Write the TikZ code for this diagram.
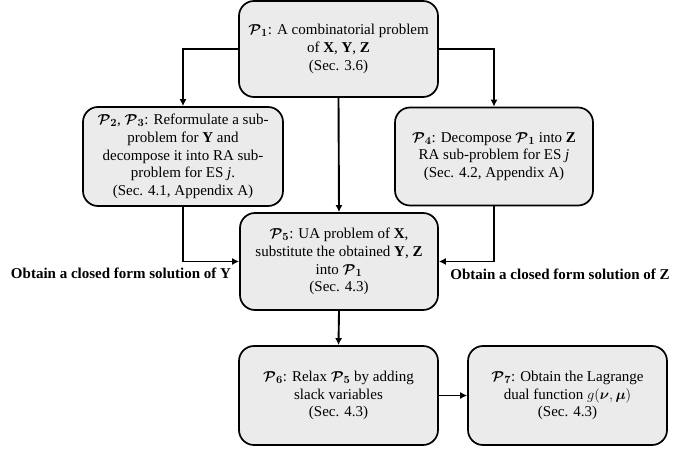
\documentclass[tikz,border=0pt]{standalone}
\usepackage{amsmath,bm}
\usepackage{fontspec}
\setmainfont{Liberation Serif}
\usetikzlibrary{arrows.meta}
\newcommand{\PP}[1]{\ensuremath{\bm{\mathcal{P}}_{\bm{#1}}}}
\begin{document}
\begin{tikzpicture}[x=1pt,y=-1pt,
  box/.style={draw=black,line width=1.7pt,rounded corners=15pt,fill=boxgray,
    align=center,inner sep=2pt,font=\fontsize{15}{17.8}\selectfont},
  conn/.style={line width=1.9pt,-{Latex[length=7pt,width=7pt]}},
  lab/.style={font=\fontsize{15}{17}\selectfont\bfseries}]
\definecolor{boxgray}{HTML}{EBEBEB}
\useasboundingbox (0,0) rectangle (693,449);
\node[box,minimum width=199pt,minimum height=96pt] (p1) at (338.5,49)
  {\PP{1}: A combinatorial problem\\of \textbf{X}, \textbf{Y}, \textbf{Z}\\(Sec. 3.6)};
\node[box,minimum width=200pt,minimum height=99pt] (p2) at (183,156.5)
  {\PP{2}, \PP{3}: Reformulate a sub-\\problem for \textbf{Y} and\\decompose it into RA sub-\\problem for ES \textit{j}.\\(Sec. 4.1, Appendix A)};
\node[box,minimum width=198pt,minimum height=98pt] (p4) at (494,156.5)
  {\PP{4}: Decompose \PP{1} into \textbf{Z}\\RA sub-problem for ES \textit{j}\\(Sec. 4.2, Appendix A)};
\node[box,minimum width=198pt,minimum height=97pt] (p5) at (339,261.5)
  {\PP{5}: UA problem of \textbf{X},\\substitute the obtained \textbf{Y}, \textbf{Z}\\into \PP{1}\\(Sec. 4.3)};
\node[box,minimum width=199pt,minimum height=99pt] (p6) at (338.5,395.5)
  {\PP{6}: Relax \PP{5} by adding\\slack variables\\(Sec. 4.3)};
\node[box,minimum width=199pt,minimum height=99pt] (p7) at (567.5,395.5)
  {\PP{7}: Obtain the Lagrange\\dual function $g(\bm{\nu},\bm{\mu})$\\(Sec. 4.3)};
\node[lab] (ly) at (121,273) {Obtain a closed form solution of Y};
\node[lab] (lz) at (560,274) {Obtain a closed form solution of Z};
\draw[conn] (p1.west) -| (p2.north);
\draw[conn] (p1.east) -| (p4.north);
\draw[conn] (p1.south) -- (p5.north);
\draw[conn] (p2.south) |- (p5.west);
\draw[conn] (p4.south) |- (p5.east);
\draw[conn] (p5.south) -- (p6.north);
\draw[conn] (p6.east) -- (p7.west);
\end{tikzpicture}
\end{document}
